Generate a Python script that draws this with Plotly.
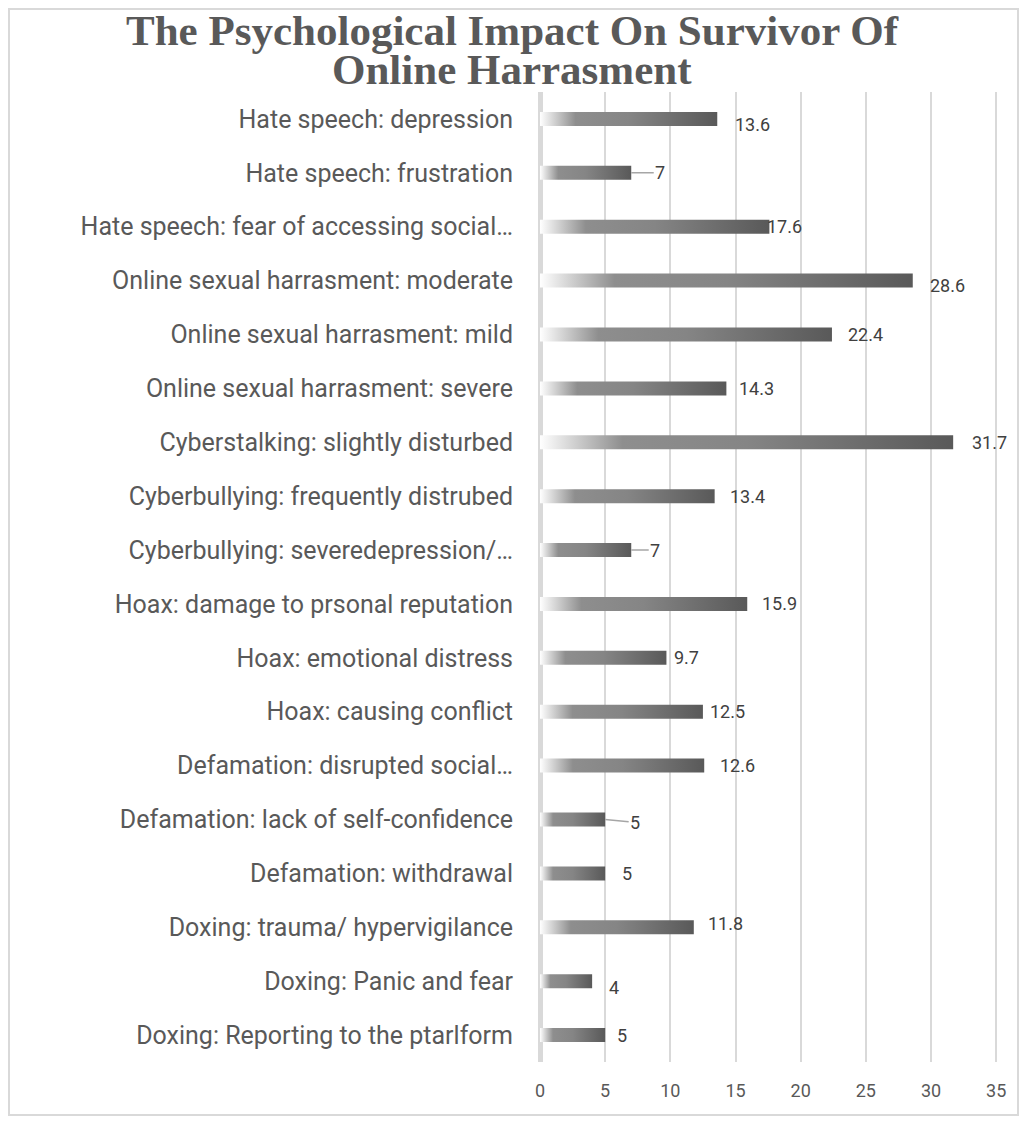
import plotly.graph_objects as go

categories = [
    "Hate speech: depression",
    "Hate speech: frustration",
    "Hate speech: fear of accessing social…",
    "Online sexual harrasment: moderate",
    "Online sexual harrasment: mild",
    "Online sexual harrasment: severe",
    "Cyberstalking: slightly disturbed",
    "Cyberbullying: frequently distrubed",
    "Cyberbullying: severedepression/…",
    "Hoax: damage to prsonal reputation",
    "Hoax: emotional distress",
    "Hoax: causing conflict",
    "Defamation: disrupted social…",
    "Defamation: lack of self-confidence",
    "Defamation: withdrawal",
    "Doxing: trauma/ hypervigilance",
    "Doxing: Panic and fear",
    "Doxing: Reporting to the ptarlform",
]
values = [13.6, 7, 17.6, 28.6, 22.4, 14.3, 31.7, 13.4, 7, 15.9, 9.7, 12.5, 12.6, 5, 5, 11.8, 4, 5]
tick_values = [0, 5, 10, 15, 20, 25, 30, 35]
title_lines = ["The Psychological Impact On Survivor Of", "Online Harrasment"]

# hand-placed label nudges (pixels), like the moved labels in the original
label_dx = [16, 29, -4, 15, 14, 11, 17, 13, 24, 13, 6, 5, 14, 30, 15, 12, 15, 10]
label_dy = [-6, 0, 0, -5, 0, 0, 0, 0, 0, 0, 0, 0, 0, -3, 0, 4, -6, 0]
leader = [False, True, False, False, False, False, False, False, True,
          False, False, False, False, True, False, False, False, False]

half = 0.13
bar_scale = [[0, "#ffffff"], [0.2, "#8e8e8e"], [0.5, "#858585"], [1, "#595959"]]

fig = go.Figure()
for i, v in enumerate(values):
    fig.add_trace(go.Scatter(
        x=[0, v, v, 0, 0],
        y=[i - half, i - half, i + half, i + half, i - half],
        mode="lines",
        line=dict(width=0),
        fill="toself",
        fillgradient=dict(type="horizontal", colorscale=bar_scale),
        hoverinfo="skip",
        showlegend=False,
    ))

label_font = dict(family="Roboto", size=18, color="#404040")
for i, v in enumerate(values):
    txt = f"{v:g}"
    if leader[i]:
        fig.add_annotation(
            x=v, y=i, text=txt, showarrow=True, arrowhead=0, arrowwidth=1.5,
            arrowcolor="#a6a6a6", ax=label_dx[i], ay=-label_dy[i], standoff=0,
            font=label_font,
        )
    else:
        fig.add_annotation(
            x=v, y=i, text=txt, showarrow=False, xanchor="left",
            xshift=label_dx[i], yshift=label_dy[i], font=label_font,
        )

# title, one annotation per line to keep the tight line spacing
for line, ty in zip(title_lines, [1.0639, 1.0227]):
    fig.add_annotation(
        xref="paper", yref="paper", x=-0.0603, y=ty,
        text=f"<b>{line}</b>", showarrow=False,
        xanchor="center", yanchor="middle",
        font=dict(family="Liberation Serif", size=43, color="#595959"),
    )

fig.add_shape(
    type="rect", xref="paper", yref="paper",
    x0=-1.1444, x1=1.0302, y0=-0.0546, y1=1.0856,
    line=dict(color="#d9d9d9", width=2), layer="below",
)

fig.update_layout(
    width=1011,
    height=1109,
    margin=dict(l=532, r=15, t=84, b=55),
    paper_bgcolor="white",
    plot_bgcolor="white",
)
fig.update_xaxes(
    range=[0, 35.6],
    tickvals=tick_values,
    showgrid=True, gridcolor="#d9d9d9", gridwidth=2,
    zeroline=True, zerolinecolor="#d9d9d9", zerolinewidth=5,
    tickfont=dict(family="Roboto", size=18, color="#595959"),
    ticks="", ticklabelstandoff=16,
)
fig.update_yaxes(
    range=[17.5, -0.5],
    tickvals=list(range(len(categories))),
    ticktext=categories,
    showgrid=False, zeroline=False,
    tickfont=dict(family="Roboto", size=25, color="#595959"),
    ticks="", ticklabelstandoff=26,
)

fig.write_html("out.html")
